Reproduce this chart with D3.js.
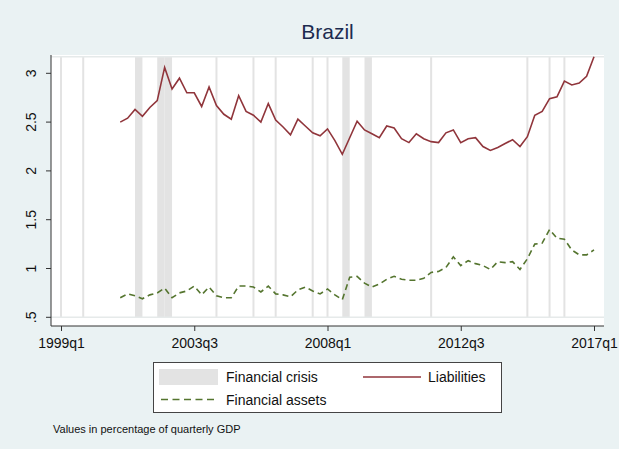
<!DOCTYPE html>
<html>
<head>
<meta charset="utf-8">
<script src="https://cdn.jsdelivr.net/npm/d3@7"></script>
<style>
  body { margin: 0; background: #EAF2F3; }
  svg { display: block; font-family: "Liberation Sans", Arial, sans-serif; }
</style>
</head>
<body>
<div id="chart"></div>
<script>
// quarters are indexed from 1999q1 = 0
const firstYear = 1999;
const seriesStart = "2001q1";

// values in percentage of quarterly GDP, 2001q1 .. 2017q1
const liabilities = [
  2.50, 2.54, 2.63, 2.56, 2.65, 2.72, 3.06, 2.84, 2.95, 2.80, 2.80, 2.66, 2.86,
  2.67, 2.58, 2.53, 2.77, 2.61, 2.57, 2.50, 2.69, 2.52, 2.45, 2.37, 2.53, 2.46,
  2.39, 2.36, 2.43, 2.31, 2.17, 2.34, 2.51, 2.42, 2.38, 2.34, 2.46, 2.44, 2.33,
  2.29, 2.38, 2.33, 2.30, 2.29, 2.39, 2.42, 2.29, 2.33, 2.34, 2.25, 2.21, 2.24,
  2.28, 2.32, 2.25, 2.35, 2.57, 2.61, 2.74, 2.76, 2.92, 2.88, 2.90, 2.97, 3.17
];
const assets = [
  0.70, 0.74, 0.72, 0.69, 0.73, 0.75, 0.80, 0.70, 0.75, 0.77, 0.82, 0.73, 0.81,
  0.72, 0.70, 0.70, 0.82, 0.82, 0.81, 0.76, 0.82, 0.74, 0.73, 0.71, 0.78, 0.81,
  0.77, 0.74, 0.79, 0.73, 0.68, 0.91, 0.92, 0.85, 0.81, 0.84, 0.89, 0.92, 0.89,
  0.88, 0.88, 0.90, 0.96, 0.97, 1.01, 1.12, 1.03, 1.08, 1.05, 1.03, 0.99, 1.07,
  1.06, 1.07, 0.99, 1.10, 1.25, 1.26, 1.40, 1.31, 1.30, 1.19, 1.14, 1.14, 1.19
];

// crisis quarters (shaded) and single-quarter markers
const crisisQuarters = ["2001q3", "2002q2", "2002q3", "2008q3", "2009q2"];
const crisisMarks = ["1999q1", "1999q4", "2004q2", "2005q3", "2006q2", "2007q3",
                     "2008q1", "2011q3", "2014q4", "2015q3", "2016q1"];
const crisisTop = 3.17;

const xTicks = ["1999q1", "2003q3", "2008q1", "2012q3", "2017q1"];
const yTicks = [0.5, 1, 1.5, 2, 2.5, 3];
const yTickLabels = [".5", "1", "1.5", "2", "2.5", "3"];

const W = 619, H = 449;
const plot = {left: 51, right: 604, top: 55, bottom: 326};

const qIndex = s => (+s.slice(0, 4) - firstYear) * 4 + (+s.slice(5) - 1);
const start = qIndex(seriesStart);

const liabData = liabilities.map((v, i) => ({q: start + i, v: v}));
const assetData = assets.map((v, i) => ({q: start + i, v: v}));

const svg = d3.select("#chart").append("svg")
    .attr("width", W)
    .attr("height", H);

svg.append("rect")
    .attr("width", W).attr("height", H)
    .attr("fill", "#EAF2F3");

svg.append("rect")
    .attr("x", plot.left).attr("y", plot.top)
    .attr("width", plot.right - plot.left)
    .attr("height", plot.bottom - plot.top)
    .attr("fill", "#fff");

const x = d3.scaleLinear()
    .domain([qIndex("1999q1"), qIndex("2017q1")])
    .range([61, 594]);

const y = d3.scaleLinear()
    .domain([0.5, 3])
    .range([317.3, 73.3]);

//crisis shading
const shade = svg.append("g");
shade.selectAll(".band")
    .data(crisisQuarters)
    .enter()
    .append("rect")
    .attr("x", d => x(qIndex(d)))
    .attr("width", x(1) - x(0))
    .attr("y", y(crisisTop))
    .attr("height", y(0.5) - y(crisisTop))
    .attr("fill", "#e3e3e3");

shade.selectAll(".mark")
    .data(crisisMarks)
    .enter()
    .append("line")
    .attr("x1", d => x(qIndex(d))).attr("x2", d => x(qIndex(d)))
    .attr("y1", y(crisisTop)).attr("y2", y(0.5))
    .attr("stroke", "#e3e3e3")
    .attr("stroke-width", 2);

shade.selectAll(".edge")
    .data([crisisTop, 0.5])
    .enter()
    .append("line")
    .attr("x1", plot.left).attr("x2", plot.right)
    .attr("y1", d => y(d)).attr("y2", d => y(d))
    .attr("stroke", "#e6eaea")
    .attr("stroke-width", 1.5);

//series
const line = d3.line()
    .x(d => x(d.q))
    .y(d => y(d.v));

svg.append("path")
    .datum(assetData)
    .attr("d", line)
    .attr("fill", "none")
    .attr("stroke", "#55752F")
    .attr("stroke-width", 1.6)
    .attr("stroke-dasharray", "6,4");

svg.append("path")
    .datum(liabData)
    .attr("d", line)
    .attr("fill", "none")
    .attr("stroke", "#90353B")
    .attr("stroke-width", 1.6);

//axes
const xAxis = svg.append("g")
    .attr("transform", `translate(0,${plot.bottom})`)
    .call(d3.axisBottom(x)
        .tickValues(xTicks.map(qIndex))
        .tickFormat((d, i) => xTicks[i])
        .tickSize(5)
        .tickPadding(7)
        .tickSizeOuter(0));
xAxis.select(".domain")
    .attr("d", `M${plot.left},0H${plot.right}`);

const yAxis = svg.append("g")
    .attr("transform", `translate(${plot.left},0)`)
    .call(d3.axisLeft(y)
        .tickValues(yTicks)
        .tickFormat((d, i) => yTickLabels[i])
        .tickSize(5)
        .tickSizeOuter(0));
yAxis.select(".domain")
    .attr("d", `M0,${plot.top}V${plot.bottom}`);
yAxis.selectAll("text")
    .attr("x", 0).attr("dy", 0)
    .attr("transform", d => `translate(-15,${y(d)}) rotate(-90)`)
    .attr("y", 0)
    .style("text-anchor", "middle");
yAxis.selectAll(".tick").attr("transform", null);
yAxis.selectAll(".tick line")
    .attr("y1", d => y(d)).attr("y2", d => y(d));

svg.selectAll(".domain, .tick line").attr("stroke", "#333");
svg.selectAll(".tick text")
    .attr("fill", "#111")
    .attr("font-size", 14)
    .attr("font-family", "Liberation Sans, Arial, sans-serif");

//title
svg.append("text")
    .attr("x", (plot.left + plot.right) / 2)
    .attr("y", 39)
    .attr("text-anchor", "middle")
    .attr("font-size", 21)
    .attr("fill", "#1c2b4f")
    .text("Brazil");

//legend
const lg = svg.append("g");
lg.append("rect")
    .attr("x", 153.5).attr("y", 362.5)
    .attr("width", 348).attr("height", 50)
    .attr("fill", "#fff")
    .attr("stroke", "#444")
    .attr("stroke-width", 1);

lg.append("rect")
    .attr("x", 159).attr("y", 369)
    .attr("width", 59).attr("height", 16)
    .attr("fill", "#e3e3e3");

lg.append("line")
    .attr("x1", 363).attr("x2", 421)
    .attr("y1", 377).attr("y2", 377)
    .attr("stroke", "#90353B").attr("stroke-width", 1.6);

lg.append("line")
    .attr("x1", 161).attr("x2", 218)
    .attr("y1", 399.5).attr("y2", 399.5)
    .attr("stroke", "#55752F").attr("stroke-width", 1.6)
    .attr("stroke-dasharray", "7,4.5");

const legendText = [
    {x: 226, y: 382, t: "Financial crisis"},
    {x: 428, y: 382, t: "Liabilities"},
    {x: 226, y: 404.5, t: "Financial assets"}
];
lg.selectAll(".lt")
    .data(legendText)
    .enter()
    .append("text")
    .attr("x", d => d.x)
    .attr("y", d => d.y)
    .attr("font-size", 14)
    .attr("fill", "#111")
    .text(d => d.t);

//note
svg.append("text")
    .attr("x", 53)
    .attr("y", 433)
    .attr("font-size", 11)
    .attr("fill", "#111")
    .text("Values in percentage of quarterly GDP");
</script>
</body>
</html>
